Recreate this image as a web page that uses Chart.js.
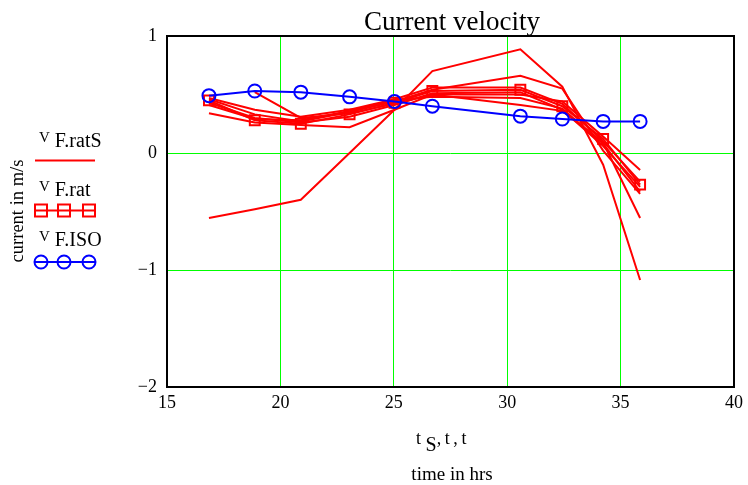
<!DOCTYPE html>
<html lang="en">
<head>
  <meta charset="UTF-8" />
  <title>Current velocity</title>
  <script src="https://cdn.jsdelivr.net/npm/chart.js"></script>
  <style>
    body {
      margin: 0;
      background: white;
      font-family: 'Liberation Serif', serif;
    }
    .wrap {
      position: relative;
      width: 748px;
      height: 485px;
    }
    canvas {
      position: absolute;
      left: 0;
      top: 0;
    }
    .txt {
      position: absolute;
      color: black;
      white-space: nowrap;
      line-height: 1;
    }
    .title { left: 0; width: 904px; top: 8px; text-align: center; font-size: 27px; }
    .ylab { left: 17px; top: 211px; font-size: 18.5px; transform: translate(-50%, -50%) rotate(-90deg); }
    .leg { left: 39px; font-size: 15px; }
    .leg span { font-size: 20px; position: relative; top: 5px; margin-left: 5px; }
    .xlab { font-size: 18px; }
    .xlab sub { font-size: 20px; vertical-align: -7px; }
  </style>
</head>
<body>
<div class="wrap">
  <canvas id="chart" width="748" height="485"></canvas>
  <div class="txt title">Current velocity</div>
  <div class="txt ylab">current in m/s</div>
  <div class="txt leg" style="top:125px">V<span>F.ratS</span></div>
  <div class="txt leg" style="top:174px">V<span>F.rat</span></div>
  <div class="txt leg" style="top:224px">V<span>F.ISO</span></div>
  <div class="txt xlab" style="left:416px; top:429px">t <sub>S</sub>,&#8201;t&#8201;,&#8201;t</div>
  <div class="txt xlab" style="left:0; width:904px; text-align:center; top:464px; font-size:19px">time in hrs</div>
</div>

<script>
  // sample times (hrs)
  const hours = [16.85, 18.87, 20.9, 23.05, 25.03, 26.7, 30.58, 32.43, 34.23, 35.86];

  // V_F.ISO and V_F.rat (m/s)
  const vISO = [0.49, 0.53, 0.52, 0.48, 0.44, 0.40, 0.315, 0.29, 0.27, 0.27];
  const vRat = [0.45, 0.28, 0.25, 0.33, 0.43, 0.53, 0.54, 0.40, 0.12, -0.27];

  // V_F.ratS, one array per column
  const vRatS1 = [-0.556, -0.48, -0.40, 0.0, 0.37, 0.70, 0.886, 0.567, -0.10, -1.085];
  const vRatS2 = [0.34, 0.26, 0.24, 0.22, 0.37, 0.50, 0.41, 0.36, 0.09, -0.556];
  const vRatS3 = [0.46, 0.33, 0.27, 0.35, 0.44, 0.54, 0.66, 0.55, 0.02, -0.35];
  const vRatS4 = [null, 0.52, 0.30, 0.34, 0.42, 0.50, 0.50, 0.44, 0.14, -0.145];
  const vRatS5 = [0.47, 0.37, 0.31, 0.37, 0.46, 0.56, 0.56, 0.42, 0.10, -0.245];
  const vRatS6 = [0.43, 0.30, 0.26, 0.31, 0.41, 0.51, 0.52, 0.37, 0.06, -0.29];
  const vRatS7 = [0.41, 0.29, 0.28, 0.36, 0.45, 0.48, 0.47, 0.38, 0.08, -0.33];
  const ratSCols = [vRatS1, vRatS2, vRatS3, vRatS4, vRatS5, vRatS6, vRatS7];

  const xTicks = [15, 20, 25, 30, 35, 40];
  const yTicks = [-2, -1, 0, 1];

  const RED = '#ff0000';
  const BLUE = '#0000ff';
  const GREEN = '#00ff00';

  function pts(vals) {
    return hours.map((h, i) => ({ x: h, y: vals[i] }));
  }

  const datasets = [
    {
      label: 'V F.ISO',
      data: pts(vISO),
      borderColor: BLUE,
      borderWidth: 2,
      pointStyle: 'circle',
      pointRadius: 6.5,
      pointBorderWidth: 2,
      pointBorderColor: BLUE,
      pointBackgroundColor: 'rgba(0,0,0,0)'
    },
    {
      label: 'V F.rat',
      data: pts(vRat),
      borderColor: RED,
      borderWidth: 2,
      pointStyle: 'rect',
      pointRadius: 7,
      pointBorderWidth: 2,
      pointBorderColor: RED,
      pointBackgroundColor: 'rgba(0,0,0,0)'
    }
  ];
  ratSCols.forEach((col, i) => {
    datasets.push({
      label: 'V F.ratS ' + (i + 1),
      data: pts(col),
      borderColor: RED,
      borderWidth: 2,
      pointRadius: 0
    });
  });

  // black frame round the plot and the legend symbols on the left
  const framePlugin = {
    id: 'frame',
    afterDraw(chart) {
      const { ctx, chartArea: a } = chart;
      ctx.save();
      ctx.strokeStyle = 'black';
      ctx.lineWidth = 2;
      ctx.strokeRect(a.left, a.top, a.right - a.left, a.bottom - a.top);

      ctx.lineWidth = 2;
      ctx.strokeStyle = RED;
      ctx.beginPath(); ctx.moveTo(35, 160.5); ctx.lineTo(95, 160.5); ctx.stroke();

      ctx.beginPath(); ctx.moveTo(35, 210.5); ctx.lineTo(95, 210.5); ctx.stroke();
      [41, 64, 89].forEach(cx => ctx.strokeRect(cx - 6, 204.5, 12, 12));

      ctx.strokeStyle = BLUE;
      ctx.beginPath(); ctx.moveTo(35, 262); ctx.lineTo(95, 262); ctx.stroke();
      [41, 64, 89].forEach(cx => {
        ctx.beginPath(); ctx.arc(cx, 262, 6.5, 0, Math.PI * 2); ctx.stroke();
      });
      ctx.restore();
    }
  };

  const tickFont = { family: "'Liberation Serif', serif", size: 18 };

  new Chart(document.getElementById('chart'), {
    type: 'line',
    data: { datasets },
    options: {
      responsive: false,
      animation: false,
      events: [],
      layout: { padding: { left: 0, right: 13, top: 36, bottom: 0 } },
      plugins: {
        legend: { display: false },
        tooltip: { enabled: false }
      },
      scales: {
        x: {
          type: 'linear',
          min: 15,
          max: 40,
          afterBuildTicks: s => { s.ticks = xTicks.map(v => ({ value: v })); },
          afterFit: s => { s.height = 98; },
          grid: { color: GREEN, lineWidth: 1, drawTicks: false },
          border: { display: false },
          ticks: { color: 'black', font: tickFont, padding: 5 }
        },
        y: {
          type: 'linear',
          min: -2,
          max: 1,
          afterBuildTicks: s => { s.ticks = yTicks.map(v => ({ value: v })); },
          afterFit: s => { s.width = 167; },
          grid: { color: GREEN, lineWidth: 1, drawTicks: false },
          border: { display: false },
          ticks: {
            color: 'black',
            font: tickFont,
            padding: 10,
            callback: v => String(v).replace('-', '\u2212')
          }
        }
      }
    },
    plugins: [framePlugin]
  });
</script>
</body>
</html>
